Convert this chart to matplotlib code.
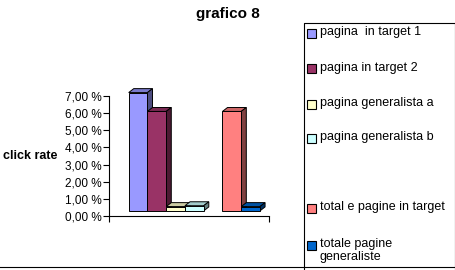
import matplotlib
matplotlib.use('Agg')
import matplotlib.pyplot as plt
from matplotlib.patches import Polygon, Rectangle
from matplotlib.lines import Line2D

plt.rcParams['font.family'] = ['Liberation Sans', 'DejaVu Sans']

# --- Dati ---
series = ["pagina  in target 1", "pagina in target 2", "pagina generalista a",
          "pagina generalista b", "", "total e pagine in target",
          "totale pagine\ngeneraliste"]
values = [6.9, 5.8, 0.25, 0.3, None, 5.8, 0.25]   # click rate in %
front_colors = ['#9999FF', '#993366', '#FFFFCC', '#CCFFFF', None, '#FF8080', '#0066CC']
top_colors = ['#7A7ACC', '#7A2952', '#CCCCA3', '#A3CCCC', None, '#CC6666', '#0052A3']
side_colors = ['#4D4D80', '#4D1A33', '#808066', '#668080', None, '#804040', '#003366']
y_ticks = [0, 1, 2, 3, 4, 5, 6, 7]
y_labels = ["%d,00 %%" % t for t in y_ticks]

W, H = 456, 270
fig = plt.figure(figsize=(W / 100, H / 100), dpi=100)

# area del grafico (in pixel: x 109-269, y 96-216)
ax = fig.add_axes([109 / W, 1 - 216 / H, 160 / W, 120 / H])
ax.set_xlim(-1.05, 7.48)
ax.set_ylim(0, 7)

floor = 0.3            # i bar partono un po' sopra l'asse (effetto 3D)
dx, dy = 0.27, 0.23    # profondita' 3D in unita' dati

for i, v in enumerate(values):
    if v is None:
        continue
    x0, x1 = i, i + 1
    top = floor + v
    # faccia superiore
    ax.add_patch(Polygon([(x0, top), (x1, top), (x1 + dx, top + dy), (x0 + dx, top + dy)],
                         closed=True, facecolor=top_colors[i], edgecolor='black',
                         linewidth=0.7, zorder=2 + i, clip_on=False))
    # faccia laterale
    ax.add_patch(Polygon([(x1, floor), (x1 + dx, floor + dy), (x1 + dx, top + dy), (x1, top)],
                         closed=True, facecolor=side_colors[i], edgecolor='black',
                         linewidth=0.7, zorder=2 + i, clip_on=False))
    # faccia frontale
    ax.bar(x0, v, width=1, bottom=floor, align='edge', color=front_colors[i],
           edgecolor='black', linewidth=0.7, zorder=2 + i, clip_on=False)

ax.spines['top'].set_visible(False)
ax.spines['right'].set_visible(False)
ax.spines['left'].set_linewidth(0.8)
ax.spines['bottom'].set_linewidth(0.8)
ax.set_yticks(y_ticks)
ax.set_yticklabels(y_labels, fontsize=8.5)
ax.set_xticks([-1.05, 7.48])
ax.set_xticklabels([])
ax.tick_params(axis='both', direction='out', length=4, width=0.8, pad=1)
ax.patch.set_alpha(0)

# titoli
fig.text(228 / W, 1 - 14 / H, "grafico 8", ha='center', va='center',
         fontsize=11, fontweight='bold')
fig.text(3 / W, 1 - 156 / H, "click rate", ha='left', va='center',
         fontsize=9, fontweight='bold')

# bordo inferiore dell'area del grafico
fig.add_artist(Line2D([0, 1], [1 - 267 / H, 1 - 267 / H], color='black', linewidth=0.8))

# legenda disegnata a mano
fig.add_artist(Line2D([304 / W, 304 / W, 455.5 / W, 455.5 / W],
                      [0, 1 - 23 / H, 1 - 23 / H, 0], color='black', linewidth=0.8))
row_y = [33, 69, 104, 138, 173, 208, 245]
for i, lab in enumerate(series):
    if not lab:
        continue
    yc = row_y[i]
    fig.add_artist(Rectangle((307 / W, 1 - (yc + 4.5) / H), 9 / W, 9 / H,
                             facecolor=front_colors[i], edgecolor='black', linewidth=0.8))
    fig.text(320 / W, 1 - (yc - 7) / H, lab, ha='left', va='top', fontsize=9,
             linespacing=1.15)

fig.savefig('out.png', dpi=100)
